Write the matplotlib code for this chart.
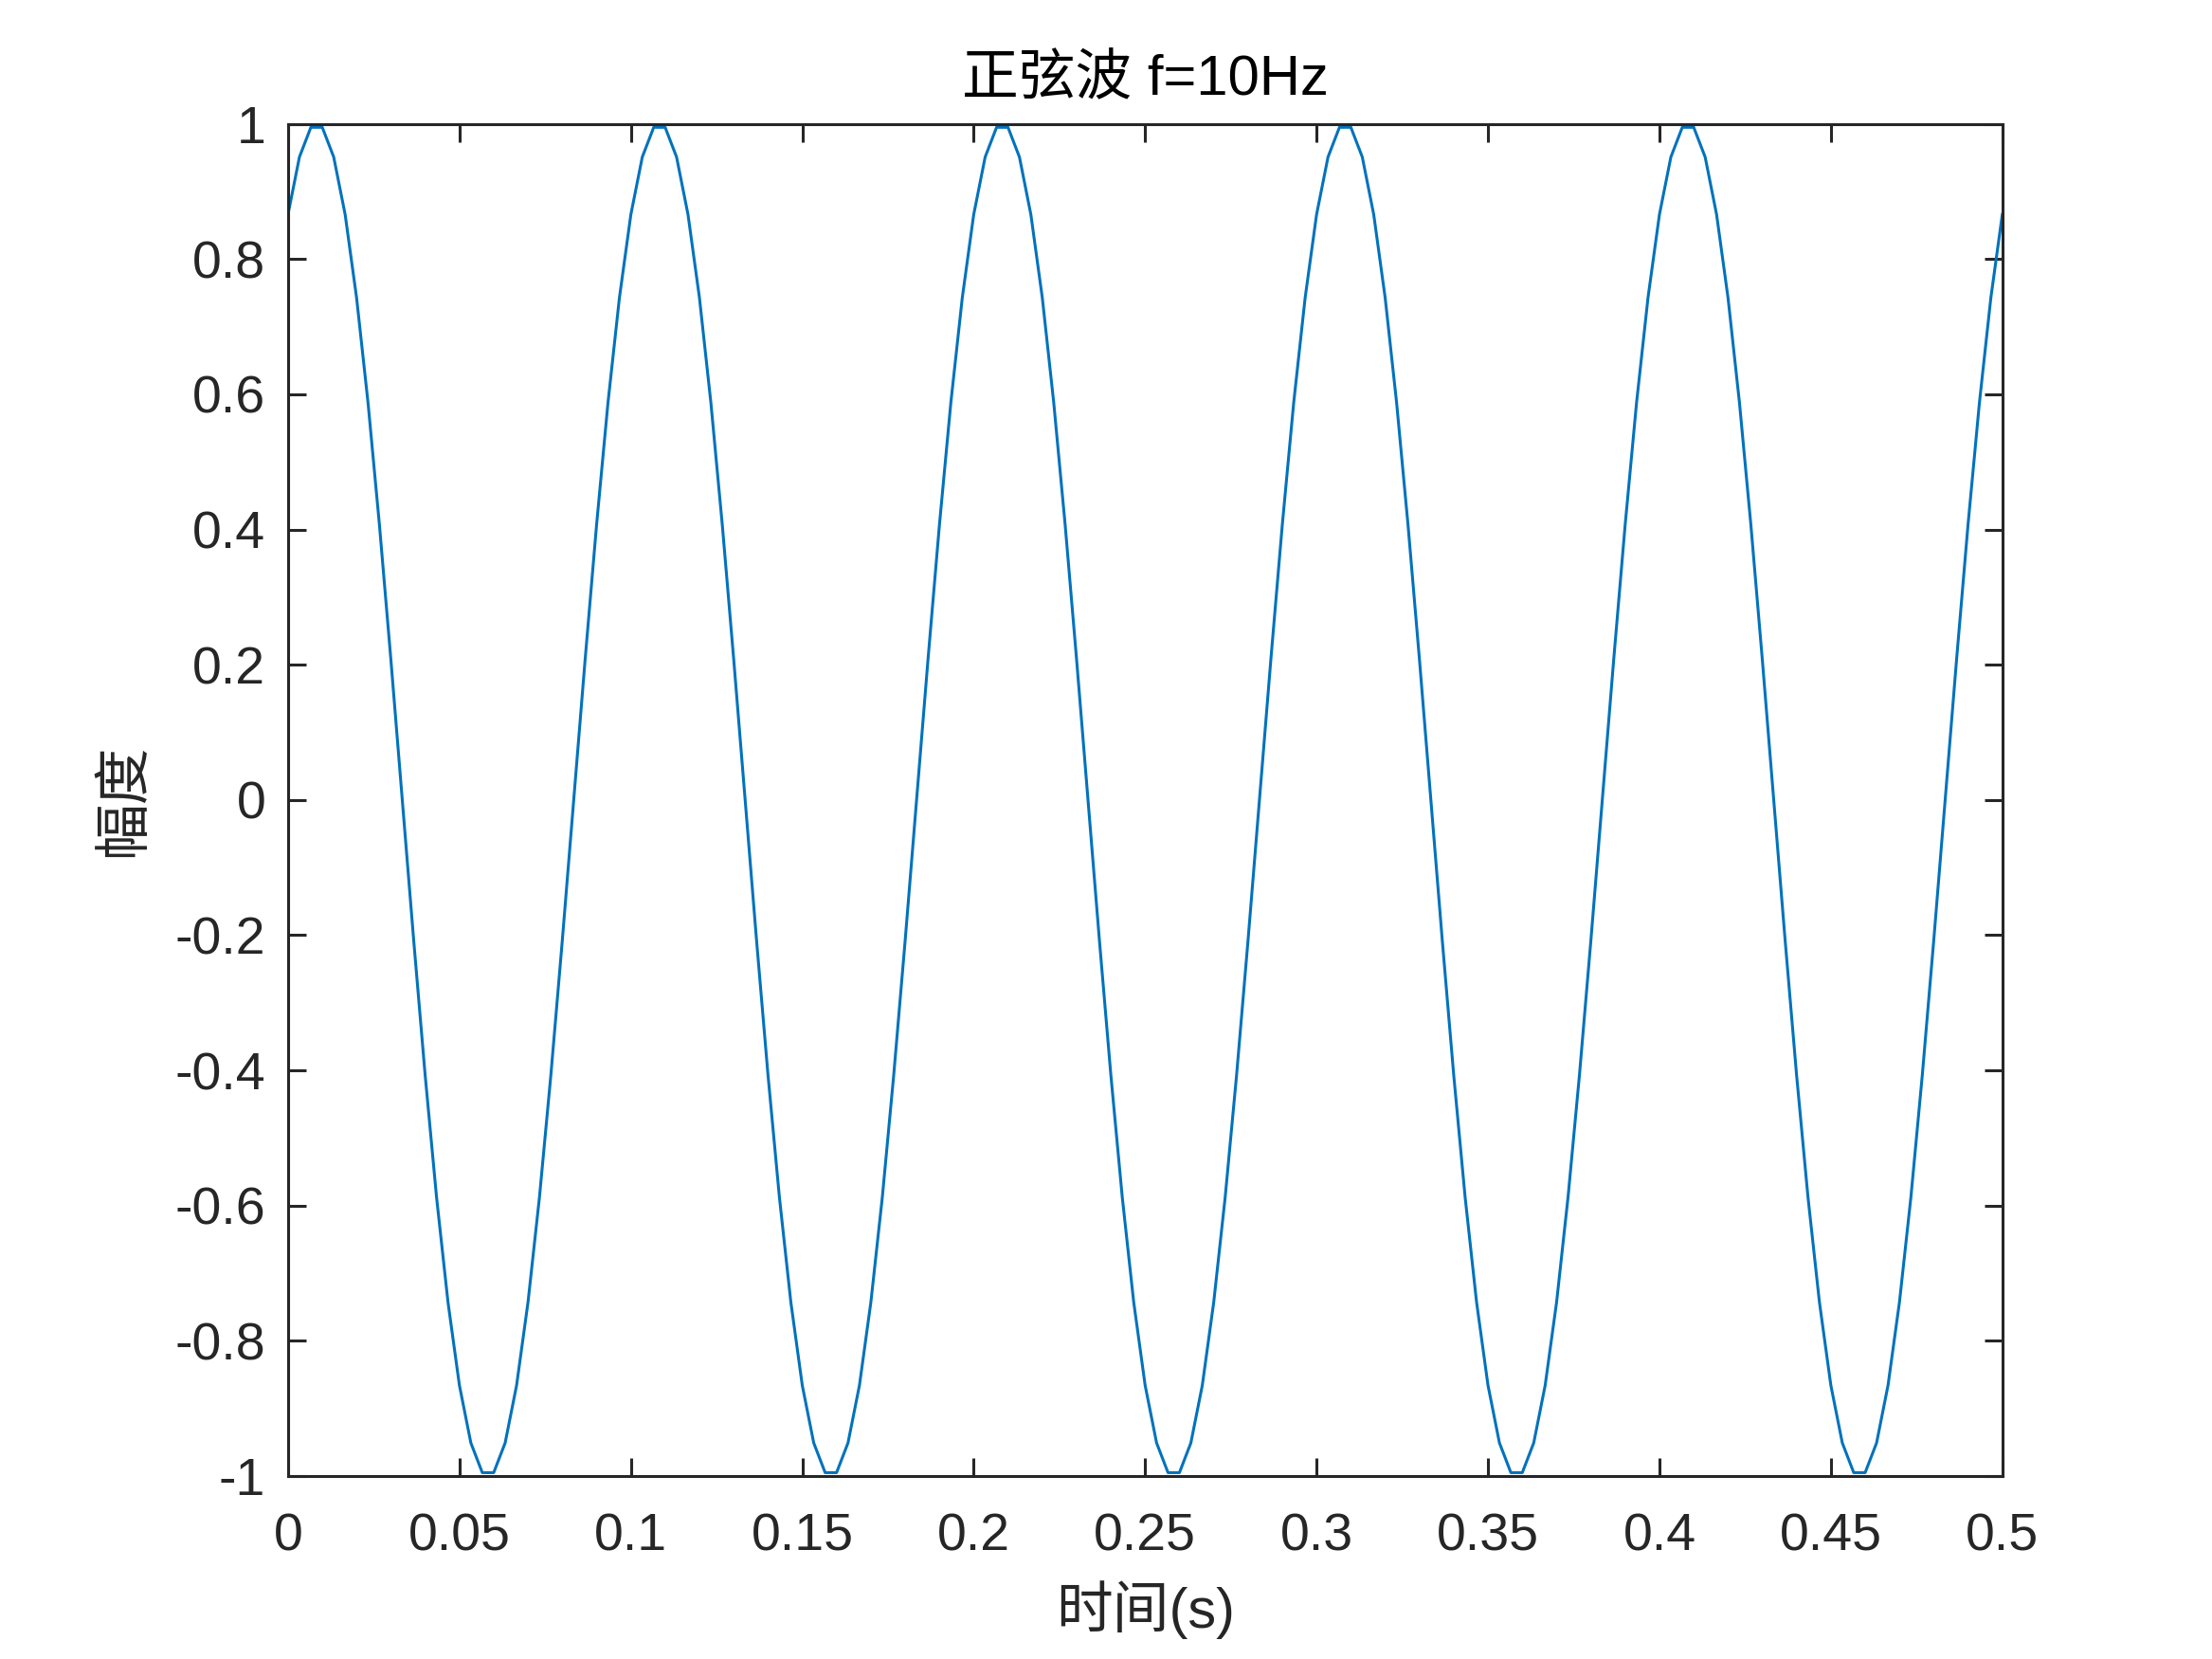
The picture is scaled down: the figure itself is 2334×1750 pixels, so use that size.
import numpy as np
import matplotlib
matplotlib.use("Agg")
import matplotlib.pyplot as plt

plt.rcParams['font.family'] = ['Liberation Sans', 'Noto Sans CJK SC']
plt.rcParams['axes.unicode_minus'] = False

amp = [
    0.866, 0.951, 0.995, 0.995, 0.951, 0.866, 0.743, 0.588, 0.407, 0.208,
    0.000, -0.208, -0.407, -0.588, -0.743, -0.866, -0.951, -0.995, -0.995, -0.951,
    -0.866, -0.743, -0.588, -0.407, -0.208, 0.000, 0.208, 0.407, 0.588, 0.743,
    0.866, 0.951, 0.995, 0.995, 0.951, 0.866, 0.743, 0.588, 0.407, 0.208,
    0.000, -0.208, -0.407, -0.588, -0.743, -0.866, -0.951, -0.995, -0.995, -0.951,
    -0.866, -0.743, -0.588, -0.407, -0.208, 0.000, 0.208, 0.407, 0.588, 0.743,
    0.866, 0.951, 0.995, 0.995, 0.951, 0.866, 0.743, 0.588, 0.407, 0.208,
    0.000, -0.208, -0.407, -0.588, -0.743, -0.866, -0.951, -0.995, -0.995, -0.951,
    -0.866, -0.743, -0.588, -0.407, -0.208, 0.000, 0.208, 0.407, 0.588, 0.743,
    0.866, 0.951, 0.995, 0.995, 0.951, 0.866, 0.743, 0.588, 0.407, 0.208,
    0.000, -0.208, -0.407, -0.588, -0.743, -0.866, -0.951, -0.995, -0.995, -0.951,
    -0.866, -0.743, -0.588, -0.407, -0.208, 0.000, 0.208, 0.407, 0.588, 0.743,
    0.866, 0.951, 0.995, 0.995, 0.951, 0.866, 0.743, 0.588, 0.407, 0.208,
    0.000, -0.208, -0.407, -0.588, -0.743, -0.866, -0.951, -0.995, -0.995, -0.951,
    -0.866, -0.743, -0.588, -0.407, -0.208, 0.000, 0.208, 0.407, 0.588, 0.743,
    0.866,
]
t = np.linspace(0, 0.5, len(amp))

xticks = [0, 0.05, 0.1, 0.15, 0.2, 0.25, 0.3, 0.35, 0.4, 0.45, 0.5]
xticklabels = ["0", "0.05", "0.1", "0.15", "0.2", "0.25", "0.3", "0.35", "0.4", "0.45", "0.5"]
yticks = [-1, -0.8, -0.6, -0.4, -0.2, 0, 0.2, 0.4, 0.6, 0.8, 1]
yticklabels = ["-1", "-0.8", "-0.6", "-0.4", "-0.2", "0", "0.2", "0.4", "0.6", "0.8", "1"]

fig = plt.figure(figsize=(11.67, 8.75), dpi=200)
ax = fig.add_axes([0.1302, 0.1103, 0.775, 0.815])

ax.plot(t, amp, color="#0072BD", linewidth=1.1)

ax.set_xlim(0, 0.5)
ax.set_ylim(-1, 1)
ax.set_xticks(xticks)
ax.set_xticklabels(xticklabels)
ax.set_yticks(yticks)
ax.set_yticklabels(yticklabels)

dark = "#262626"
for s in ax.spines.values():
    s.set_color(dark)
    s.set_linewidth(1.1)
ax.tick_params(direction="in", length=6.8, width=1.1, color=dark, labelcolor=dark,
               labelsize=20, top=True, right=True)
ax.tick_params(axis="y", pad=8.5)
ax.tick_params(axis="x", pad=14)

ax.set_title("正弦波 f=10Hz", fontsize=21.5, color="black", pad=11)
ax.set_xlabel("时间(s)", fontsize=21.5, color=dark, labelpad=7)
ax.set_ylabel("幅度", fontsize=21.5, color=dark, labelpad=9)

fig.savefig("out.png", dpi=200, facecolor="white")
